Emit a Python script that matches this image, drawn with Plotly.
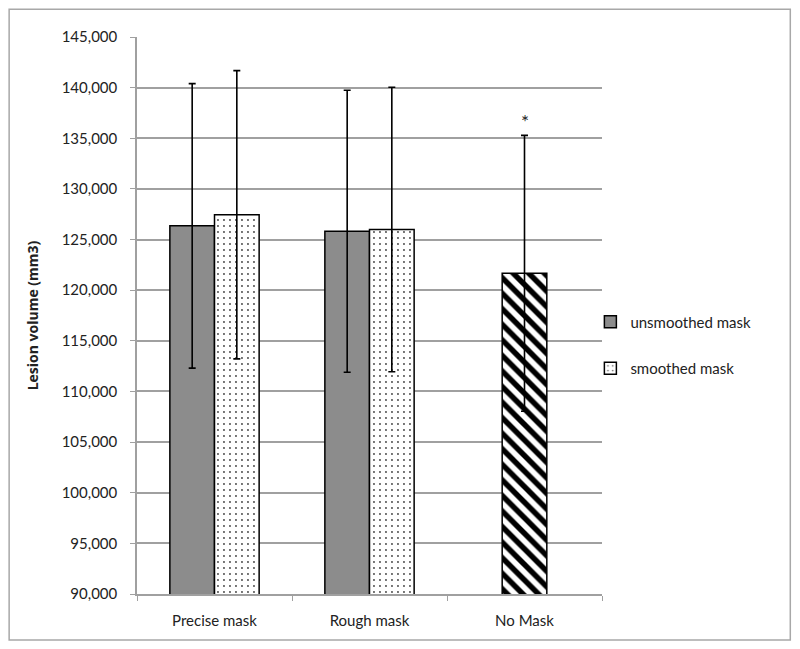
import plotly.graph_objects as go

categories = ["Precise mask", "Rough mask", "No Mask"]

unsmoothed_mean = [126350, 125820]
unsmoothed_err = [14050, 13920]
smoothed_mean = [127450, 125990]
smoothed_err = [14230, 14050]
nomask_mean = [121670]
nomask_err = [13620]

y_ticks = list(range(90000, 145001, 5000))

W, H = 784, 633
L, R, T, B = 129, 189.5, 28.7, 47
PW, PH = W - L - R, H - T - B

GRID = "#a0a0a0"
BAR_W = 0.288

fig = go.Figure()

fig.add_trace(go.Bar(
    x=categories[:2], y=unsmoothed_mean, name="unsmoothed mask",
    width=BAR_W, offset=-BAR_W,
    marker=dict(color="#8c8c8c", line=dict(color="black", width=1.5)),
    error_y=dict(type="data", array=unsmoothed_err, color="black", thickness=1.6, width=3.5),
    legendgroup="a",
))
fig.add_trace(go.Bar(
    x=categories[:2], y=smoothed_mean, name="smoothed mask",
    width=BAR_W, offset=0,
    marker=dict(color="white", line=dict(color="black", width=1.5),
                pattern=dict(shape=".", fgcolor="#444444", bgcolor="white", size=6,
                             solidity=0.08, fgopacity=1)),
    error_y=dict(type="data", array=smoothed_err, color="black", thickness=1.6, width=3.5),
    legendgroup="b",
))
fig.add_trace(go.Bar(
    x=categories[2:], y=nomask_mean, name="no mask", showlegend=False,
    width=BAR_W, offset=-BAR_W / 2,
    marker=dict(color="white", line=dict(color="black", width=1.5),
                pattern=dict(shape="\\", fgcolor="#000000", bgcolor="white", size=11,
                             solidity=0.5, fgopacity=1, fillmode="replace")),
    error_y=dict(type="data", array=nomask_err, color="black", thickness=1.6, width=3.5),
))

fig.add_annotation(
    x=categories[2], y=nomask_mean[0] + nomask_err[0], text="*", showarrow=False,
    yanchor="bottom", yshift=0, font=dict(size=19, color="#222"),
)

# outer frame
fig.add_shape(
    type="rect", xref="paper", yref="paper",
    x0=-(L - 1) / PW, x1=1 + (R - 1) / PW, y0=-(B - 1) / PH, y1=1 + (T - 1) / PH,
    line=dict(color="#a8a8a8", width=1.5), layer="below",
)

fig.update_layout(
    width=W, height=H,
    margin=dict(l=L, r=R, t=T, b=B, autoexpand=False),
    paper_bgcolor="white", plot_bgcolor="white",
    barmode="overlay",
    font=dict(family="Lato, Open Sans, sans-serif", size=15, color="#222"),
    legend=dict(x=0.975, y=0.447, xanchor="left", yanchor="middle",
                bgcolor="rgba(0,0,0,0)",
                traceorder="grouped", tracegroupgap=24, font=dict(size=15),
                itemwidth=30),
    xaxis=dict(
        showline=True, linecolor=GRID, linewidth=1.5,
        ticks="outside", tickson="boundaries", ticklen=5, tickcolor=GRID,
        ticklabelstandoff=12, showgrid=False,
    ),
    yaxis=dict(
        range=[90000, 145000], tickvals=y_ticks, tickformat=",d",
        showline=True, linecolor=GRID, linewidth=1.5,
        showgrid=True, gridcolor=GRID, gridwidth=1.8,
        ticks="outside", ticklen=5, tickcolor=GRID, ticklabelstandoff=10,
        zeroline=False,
        title=dict(text="<b>Lesion volume (mm3)</b>",
                   font=dict(family="Open Sans, sans-serif", size=14), standoff=20),
    ),
)

fig.write_html("out.html")
